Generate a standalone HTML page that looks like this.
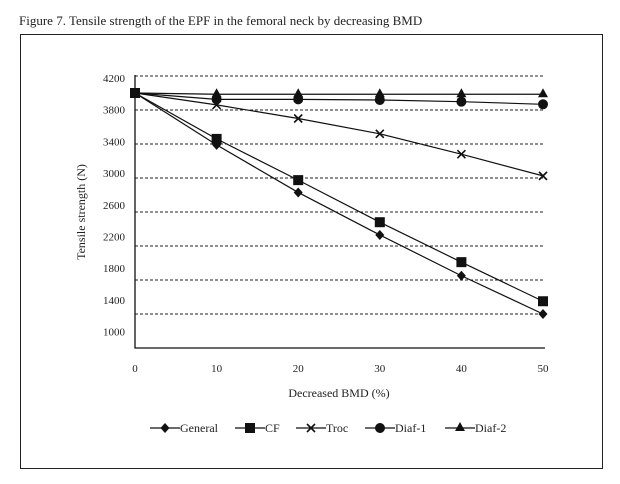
<!DOCTYPE html>
<html><head><meta charset="utf-8"><style>
body{margin:0;background:#fff;}
svg{display:block;font-family:"Liberation Serif",serif;}
</style></head><body>
<svg width="620" height="484" viewBox="0 0 620 484" id="c">
<text x="19" y="25" font-size="13" fill="#222">Figure 7. Tensile strength of the EPF in the femoral neck by decreasing BMD</text>
<rect x="20.5" y="34.5" width="582" height="434" fill="none" stroke="#222" stroke-width="1"/>
<text transform="translate(85,212) rotate(-90)" text-anchor="middle" font-size="12" fill="#222">Tensile strength (N)</text>
<text x="339" y="397" text-anchor="middle" font-size="12" fill="#222">Decreased BMD (%)</text>
<g id="grid"></g><g id="ylab"></g><g id="xlab"></g><g id="series"></g><g id="legend"></g>
</svg>
<script>
const categories=[0,10,20,30,40,50];
const yTicks=[4200,3800,3400,3000,2600,2200,1800,1400,1000];
const seriesNames=["General","CF","Troc","Diaf-1","Diaf-2"];
const general=[4000,3390,2830,2330,1850,1400];
const cf=[4000,3460,2975,2480,2010,1550];
const troc=[4000,3860,3700,3520,3280,3025];
const diaf1=[4000,3925,3925,3918,3898,3867];
const diaf2=[4000,3985,3985,3985,3985,3985];
const allSeries=[general,cf,troc,diaf1,diaf2];
const markers=["diamond","square","x","circle","triangle"];

const NS="http://www.w3.org/2000/svg";
function X(v){return 135+(v-0)*(543-135)/50;}
function Y(v){return 76+(4200-v)*34/400;}
function mk(t,a,p){const e=document.createElementNS(NS,t);for(const k in a)e.setAttribute(k,a[k]);p.appendChild(e);return e;}
const grid=document.getElementById('grid'),ylab=document.getElementById('ylab'),xlab=document.getElementById('xlab'),ser=document.getElementById('series'),leg=document.getElementById('legend');

yTicks.forEach((t,i)=>{
  if(t>1000){const l=mk('line',{x1:135,x2:545,y1:Y(t),y2:Y(t),stroke:'#222','stroke-width':1,'stroke-dasharray':'3,2'},grid);
  
  }
  const tx=mk('text',{x:125,y:82+i*31.7,'text-anchor':'end','font-size':11,fill:'#222'},ylab);tx.textContent=t;
  
  
});
const ax=mk('path',{d:`M${X(0)},${Y(4200)-1}V${Y(1000)}H545`,fill:'none',stroke:'#111','stroke-width':1.3},grid);


categories.forEach(c=>{const t=mk('text',{x:X(c),y:372,'text-anchor':'middle','font-size':11,fill:'#222'},xlab);t.textContent=c;
  
  });

function marker(type,x,y,p){
  let e;
  if(type==='diamond')e=mk('path',{d:`M${x},${y-5}L${x+4.5},${y}L${x},${y+5}L${x-4.5},${y}Z`,fill:'#111'},p);
  else if(type==='square')e=mk('rect',{x:x-5,y:y-5,width:10,height:10,fill:'#111'},p);
  else if(type==='x')e=mk('path',{d:`M${x-4},${y-4}L${x+4},${y+4}M${x+4},${y-4}L${x-4},${y+4}`,stroke:'#111','stroke-width':1.6},p);
  else if(type==='circle')e=mk('circle',{cx:x,cy:y,r:5,fill:'#111'},p);
  else e=mk('path',{d:`M${x},${y-6}L${x+5},${y+3}L${x-5},${y+3}Z`,fill:'#111'},p);
  return e;
}
allSeries.forEach((s,i)=>{
  const g=mk('g',{},ser);
  
  
  const pl=mk('polyline',{points:s.map((v,j)=>X(categories[j])+','+Y(v)).join(' '),fill:'none',stroke:'#111','stroke-width':1.2},g);
  
  
  s.forEach((v,j)=>{const m=marker(markers[i],X(categories[j]),Y(v),g);
    
    });
});
const legX=[150,235,296,365,445];
seriesNames.forEach((n,i)=>{
  const g=mk('g',{},leg);
  
  
  const x=legX[i];
  mk('line',{x1:x,x2:x+30,y1:428,y2:428,stroke:'#111','stroke-width':1.2},g);
  marker(markers[i],x+15,428,g);
  const t=mk('text',{x:x+30,y:432,'font-size':12,fill:'#222'},g);t.textContent=n;
});
</script>
</body></html>
